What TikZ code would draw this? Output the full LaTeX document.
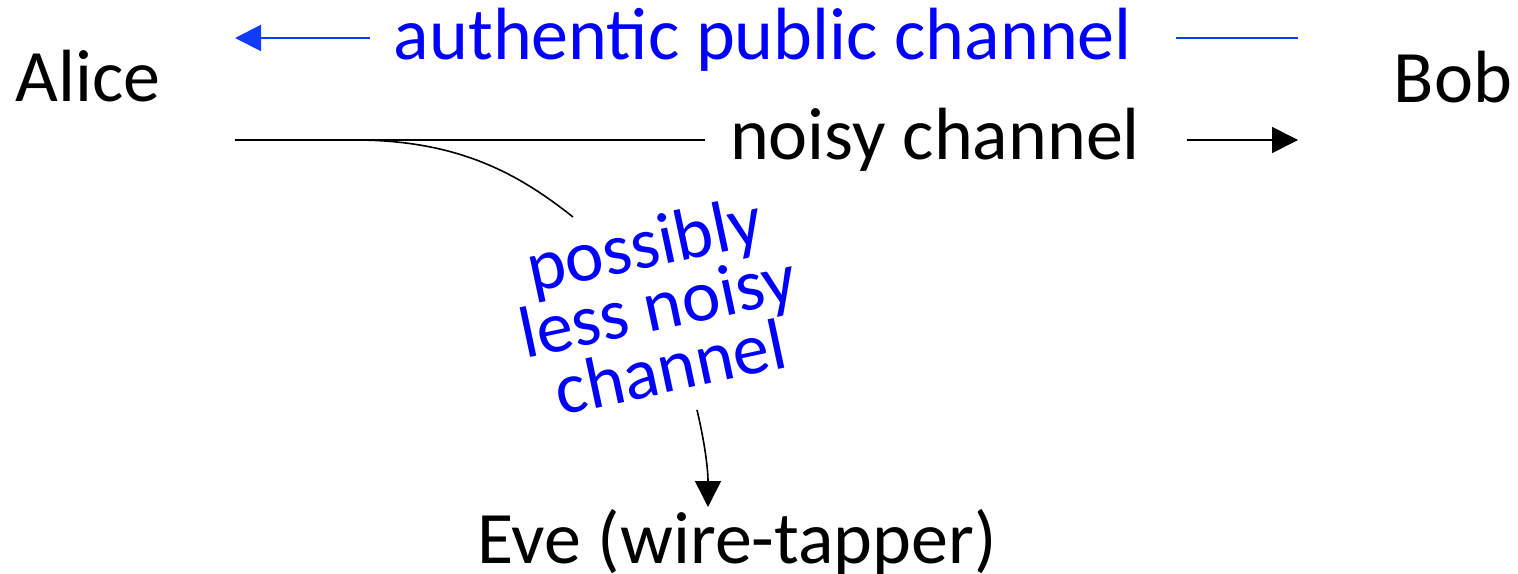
\documentclass[tikz,border=0pt]{standalone}
\usepackage{fontspec}
\setmainfont{Carlito}
\usetikzlibrary{arrows.meta}
\definecolor{pubblue}{RGB}{0,0,255}
\definecolor{pubstroke}{RGB}{15,60,255}
\tikzset{
  party/.style={inner sep=0pt, anchor=base, font=\fontsize{74bp}{88bp}\selectfont},
  chanlabel/.style={inner sep=0pt, anchor=base, font=\fontsize{74bp}{88bp}\selectfont},
  arrowtip/.style={-{Triangle[length=26bp,width=26bp]}},
  wire/.style={line width=1.6bp, black},
  publink/.style={line width=2bp, pubstroke}
}
\begin{document}
\begin{tikzpicture}[x=1bp,y=-1bp]
\useasboundingbox (0,0) rectangle (1518,574);
% parties
\node[party] (alice) at (88,102) {Alice};
\node[party] (bob) at (1453,103) {Bob};
\node[party] (eve) at (737,563) {Eve (wire-tapper)};
% channel labels
\node[chanlabel, text=pubblue] (pub) at (763,60) {authentic public channel};
\node[chanlabel] (noisy) at (935,160) {noisy channel};
\node[inner sep=0pt, text=pubblue, align=center, rotate=12,
      font=\fontsize{73bp}{63bp}\selectfont] (tap) at (657,305)
      {possibly\\less noisy\\channel};
% free ends of the connectors
\coordinate (pubL) at (235,38);
\coordinate (pubA) at (370,38);
\coordinate (pubB) at (1176,38);
\coordinate (pubR) at (1298,38);
\coordinate (noisyL) at (235,140);
\coordinate (noisyA) at (705,140);
\coordinate (noisyB) at (1187,140);
\coordinate (noisyR) at (1298,140);
\coordinate (split) at (355,140);
\coordinate (tapIn) at (573,217);
\coordinate (tapOut) at (697,410);
\coordinate (eveIn) at (708,507);
% public channel (Bob to Alice)
\draw[publink, arrowtip] (pubA) -- (pubL);
\draw[publink] (pubB) -- (pubR);
% noisy channel (Alice to Bob)
\draw[wire] (noisyL) -- (noisyA);
\draw[wire, arrowtip] (noisyB) -- (noisyR);
% wire-tap branch to Eve
\draw[wire] (split) .. controls (460,140) and (520,175) .. (tapIn);
\draw[wire, arrowtip] (tapOut) .. controls (703,435) and (708,465) .. (eveIn);
\end{tikzpicture}
\end{document}
